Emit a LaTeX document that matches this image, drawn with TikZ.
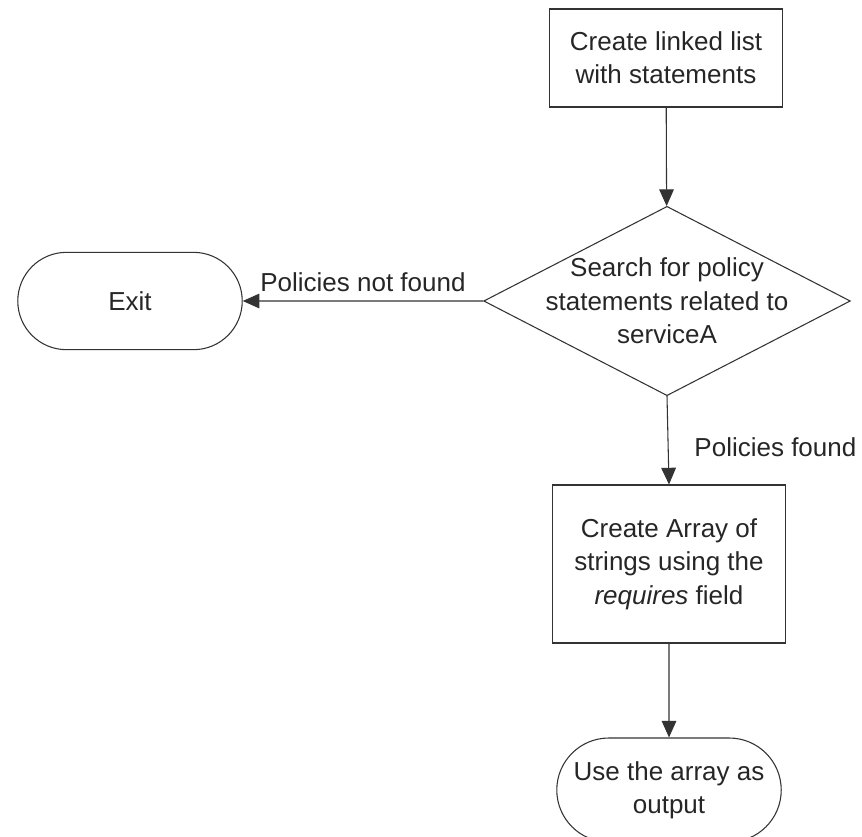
\documentclass[tikz,border=0pt]{standalone}
\usepackage{fontspec}
\setmainfont{Liberation Sans}
\usetikzlibrary{shapes.geometric, shapes.misc, arrows.meta}

\begin{document}
\begin{tikzpicture}[x = 0.75pt, y = -0.75pt,
    every node/.style = {font = \fontsize{19.5}{25}\selectfont, text = black!85, align = center},
    process/.style = {shape = rectangle, draw = black!80, line width = 0.8pt, minimum width = 174.5pt},
    terminal/.style = {shape = rounded rectangle, draw = black!80, line width = 0.8pt, minimum width = 175pt},
    decision/.style = {shape = diamond, draw = black!80, line width = 0.8pt, inner sep = 0pt},
    flow/.style = {draw = black!80, line width = 0.8pt, -{Triangle[length = 12.5pt, width = 11pt]}}]
    \clip (0,0) rectangle (862,836);
    \node[process, minimum height = 73.5pt] (list) at (666,58) {Create linked list\\with statements};
    \node[decision, minimum width = 275pt, minimum height = 142pt] (search) at (667,301) {};
    \node (searchtext) at (search) {Search for policy\\statements related to\\serviceA};
    \node[terminal, minimum height = 73pt] (exit) at (130,301) {Exit};
    \node[process, minimum height = 118.5pt] (array) at (669,564) {Create Array of\\strings using the\\\textit{requires} field};
    \node[terminal, minimum height = 78pt] (output) at (669,790) {Use the array as\\output};
    % connectors
    \draw[flow] (list) -- (search);
    \draw[flow] (search) -- node[above, yshift = 3pt] (notfound) {Policies not found} (exit);
    \draw[flow] (search.south) -- node[right, pos = 0.58, xshift = 16pt] (found) {Policies found} (array.north);
    \draw[flow] (array) -- (output);
\end{tikzpicture}
\end{document}
